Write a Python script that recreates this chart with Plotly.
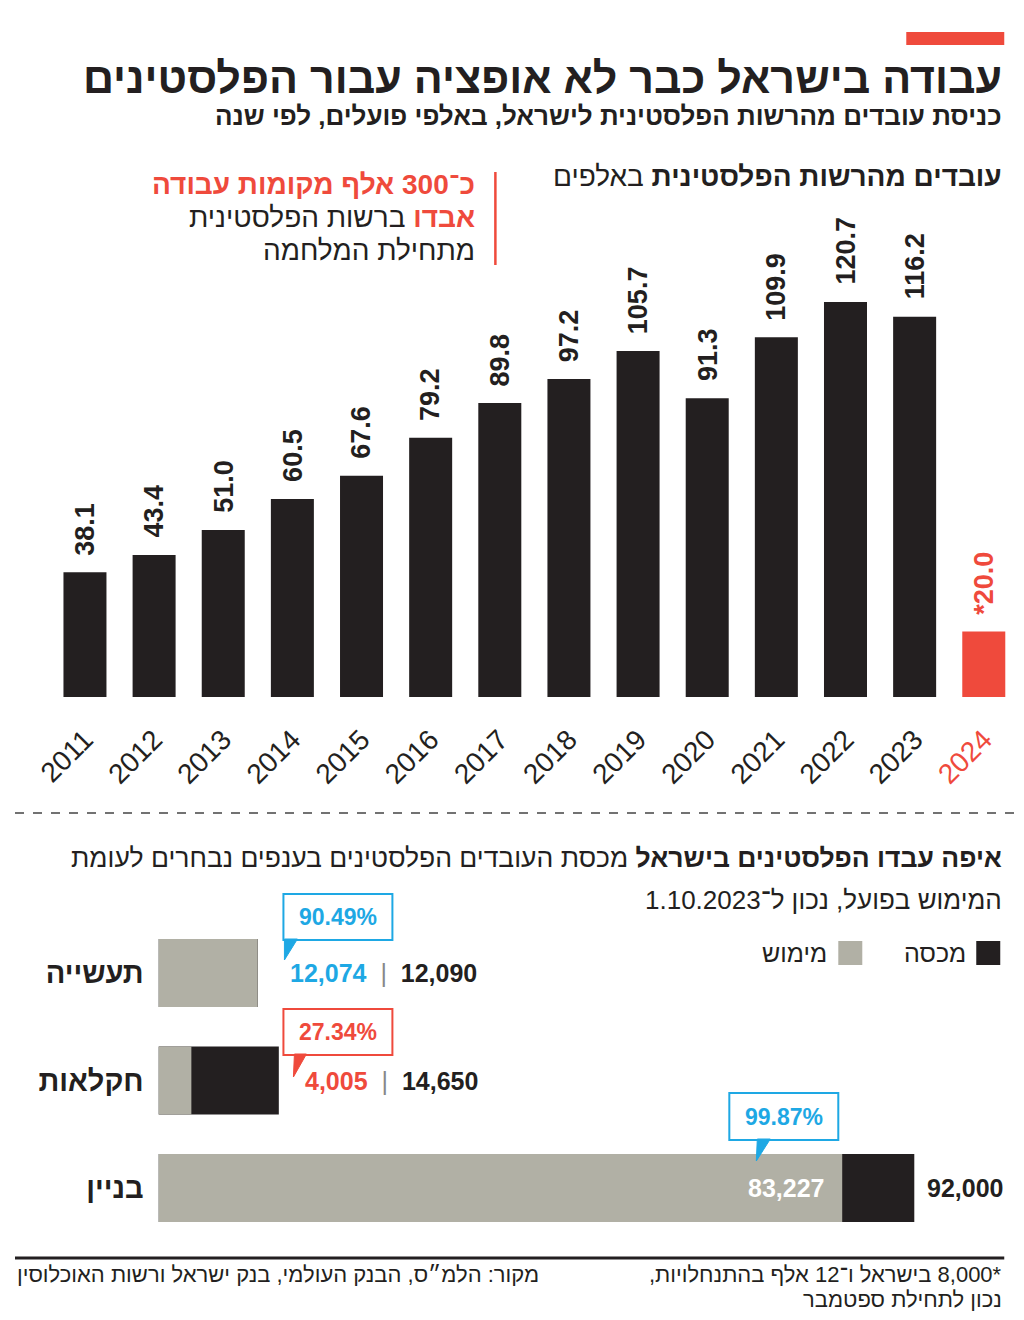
import plotly.graph_objects as go

# ---------------- data ----------------
years = ["2011", "2012", "2013", "2014", "2015", "2016", "2017",
         "2018", "2019", "2020", "2021", "2022", "2023", "2024"]
workers_thousands = [38.1, 43.4, 51.0, 60.5, 67.6, 79.2, 89.8,
                     97.2, 105.7, 91.3, 109.9, 120.7, 116.2, 20.0]
value_labels = ["38.1", "43.4", "51.0", "60.5", "67.6", "79.2", "89.8",
                "97.2", "105.7", "91.3", "109.9", "120.7", "116.2", "*20.0"]

sectors = ["תעשייה", "חקלאות", "בניין"]
quota = [12090, 14650, 92000]
actual = [12074, 4005, 83227]
usage_pct = ["90.49%", "27.34%", "99.87%"]

# ---------------- style ----------------
W, H = 1024, 1320
BLACK = "#231f20"
RED = "#ef4a3c"
GRAY = "#b1b0a5"
BLUE = "#1ea8e4"
HEB = "Liberation Sans, DejaVu Sans, sans-serif"
NUM = "Liberation Sans, Roboto, sans-serif"
RLE, PDF = "\u202b", "\u202c"
# horizontal correction measured from the rendered picture
VIEW_OFFSET, VIEW_SCALE = 14.5, 0.9856


def px(x):
    return max((x - VIEW_OFFSET) / VIEW_SCALE, 0) / W


def py(y):
    return 1 - y / H


def rtl(s):
    return RLE + s + PDF


fig = go.Figure()

bar_colors = [BLACK] * (len(years) - 1) + [RED]
fig.add_trace(go.Bar(
    x=years, y=workers_thousands, marker=dict(color=bar_colors, line=dict(width=0)),
    width=0.622, xaxis="x", yaxis="y", hoverinfo="x+y", showlegend=False))

fig.add_trace(go.Bar(
    y=sectors, x=quota, orientation="h", marker=dict(color=BLACK, line=dict(width=0)),
    width=0.633, xaxis="x2", yaxis="y2", name="מכסה", showlegend=False))
fig.add_trace(go.Bar(
    y=sectors, x=actual, orientation="h", marker=dict(color=GRAY, line=dict(width=0)),
    width=0.633, xaxis="x2", yaxis="y2", name="מימוש", showlegend=False))

ticktext = [y if i < len(years) - 1 else f"<span style='color:{RED}'>{y}</span>"
            for i, y in enumerate(years)]

annotations = []
shapes = []

for i, (v, lab) in enumerate(zip(workers_thousands, value_labels)):
    annotations.append(dict(
        x=i, y=v, xref="x", yref="y", text=f"<b>{lab}</b>", textangle=-90,
        showarrow=False, xanchor="center", yanchor="bottom", yshift=15,
        font=dict(family=NUM, size=27, color=RED if i == len(years) - 1 else BLACK)))

right_texts = [
    (1004, 78, "<b>עבודה בישראל כבר לא אופציה עבור הפלסטינים</b>", 43, BLACK),
    (1004, 116, "<b>כניסת עובדים מהרשות הפלסטינית לישראל, באלפי פועלים, לפי שנה</b>", 26, BLACK),
    (1004, 177, "<b>עובדים מהרשות הפלסטינית</b> באלפים", 28, BLACK),
    (477, 184, "<b>כ־300 אלף מקומות עבודה</b>", 28, RED),
    (477, 217, f"<b><span style='color:{RED}'>אבדו</span></b> ברשות הפלסטינית", 28, BLACK),
    (477, 250, rtl("מתחילת המלחמה"), 28, BLACK),
    (1004, 858, "<b>איפה עבדו הפלסטינים בישראל</b> מכסת העובדים הפלסטינים בענפים נבחרים לעומת", 26.5, BLACK),
    (1004, 900, rtl("המימוש בפועל, נכון ל־1.10.2023"), 26, BLACK),
    (968, 953, rtl("מכסה"), 25, BLACK),
    (829, 953, rtl("מימוש"), 25, BLACK),
    (1004, 1274, rtl("*8,000 בישראל ו־12 אלף בהתנחלויות,"), 22, BLACK),
    (1004, 1299, rtl("נכון לתחילת ספטמבר"), 22, BLACK),
]
for x, y, t, s, c in right_texts:
    annotations.append(dict(x=px(x), y=py(y), xref="paper", yref="paper", text=t,
                            xanchor="right", yanchor="middle", showarrow=False,
                            font=dict(family=HEB, size=s, color=c)))

annotations.append(dict(
    x=px(14.5), y=py(1274), xref="paper", yref="paper", xanchor="left", yanchor="middle",
    showarrow=False, text=rtl("מקור: הלמ״ס, הבנק העולמי, בנק ישראל ורשות האוכלוסין"),
    font=dict(family=HEB, size=22, color=BLACK)))

nb = "\u00a0"
sep = f"{nb*2}<span style='color:#888'>|</span>{nb*2}"
label_cols = [BLUE, RED]
shifts = [30, 24]
for i in range(2):
    annotations.append(dict(
        x=quota[i], y=sectors[i], xref="x2", yref="y2", xanchor="left", yanchor="middle",
        xshift=shifts[i], showarrow=False,
        text=f"<b><span style='color:{label_cols[i]}'>{actual[i]:,}</span></b>{sep}<b>{quota[i]:,}</b>",
        font=dict(family=NUM, size=25, color=BLACK)))
annotations.append(dict(
    x=actual[2], y=sectors[2], xref="x2", yref="y2", xanchor="right", yanchor="middle",
    xshift=-16, showarrow=False, text=f"<b>{actual[2]:,}</b>",
    font=dict(family=NUM, size=25, color="white")))
annotations.append(dict(
    x=quota[2], y=sectors[2], xref="x2", yref="y2", xanchor="left", yanchor="middle",
    xshift=11, showarrow=False, text=f"<b>{quota[2]:,}</b>",
    font=dict(family=NUM, size=25, color=BLACK)))

callouts = [
    (usage_pct[0], BLUE, (283, 894, 392, 940), [(284, 939), (297, 939), (284, 960)]),
    (usage_pct[1], RED, (283, 1009, 392, 1055), [(294, 1054), (306, 1054), (293, 1077)]),
    (usage_pct[2], BLUE, (729, 1093, 838, 1140), [(757, 1139), (770, 1139), (756, 1161)]),
]
for txt, col, (x0, y0, x1, y1), tail in callouts:
    shapes.append(dict(type="rect", xref="paper", yref="paper", x0=px(x0), x1=px(x1),
                       y0=py(y0), y1=py(y1), line=dict(color=col, width=2), fillcolor="white"))
    path = "M " + " L ".join(f"{px(a)},{py(b)}" for a, b in tail) + " Z"
    shapes.append(dict(type="path", xref="paper", yref="paper", path=path,
                       line=dict(color=col, width=1), fillcolor=col))
    annotations.append(dict(x=px((x0 + x1) / 2), y=py((y0 + y1) / 2), xref="paper", yref="paper",
                            showarrow=False, text=f"<b>{txt}</b>", xanchor="center", yanchor="middle",
                            font=dict(family=NUM, size=23, color=col)))

shapes += [
    dict(type="rect", xref="paper", yref="paper", x0=px(906), x1=px(1004), y0=py(32), y1=py(45),
         fillcolor=RED, line=dict(width=0)),
    dict(type="line", xref="paper", yref="paper", x0=px(495), x1=px(495), y0=py(172), y1=py(265),
         line=dict(color=RED, width=2.5)),
    dict(type="line", xref="paper", yref="paper", x0=px(10), x1=px(1014), y0=py(813), y1=py(813),
         line=dict(color="#444", width=1.5, dash="dash")),
    dict(type="line", xref="paper", yref="paper", x0=px(10), x1=px(1004), y0=py(1258), y1=py(1258),
         line=dict(color=BLACK, width=3)),
    dict(type="rect", xref="paper", yref="paper", x0=px(976), x1=px(1000), y0=py(941), y1=py(965),
         fillcolor=BLACK, line=dict(width=0)),
    dict(type="rect", xref="paper", yref="paper", x0=px(838), x1=px(862), y0=py(941), y1=py(965),
         fillcolor=GRAY, line=dict(width=0)),
]

fig.update_layout(
    width=W, height=H, margin=dict(l=0, r=0, t=0, b=0),
    paper_bgcolor="white", plot_bgcolor="white",
    barmode="overlay", showlegend=False,
    annotations=annotations, shapes=shapes,
    xaxis=dict(domain=[px(49.9), px(1018.1)], range=[-0.5, 13.5], type="category",
               tickmode="array", tickvals=years, ticktext=ticktext, tickangle=-45,
               ticks="outside", ticklen=14, tickcolor="rgba(0,0,0,0)",
               tickfont=dict(family="Liberation Sans, Arial, sans-serif", size=28, color=BLACK),
               showgrid=False, zeroline=False, showline=False, fixedrange=True),
    yaxis=dict(domain=[py(697), py(230)], range=[0, 142.7], visible=False, fixedrange=True),
    xaxis2=dict(domain=[px(158), px(1004)], range=[0, 102950], visible=False, anchor="y2",
                fixedrange=True),
    yaxis2=dict(domain=[py(1241.75), py(919.25)], range=[-0.5, 2.5], anchor="x2",
                type="category", categoryorder="array", categoryarray=sectors[::-1],
                tickmode="array", tickvals=sectors, ticktext=[f"<b>{s}</b>" for s in sectors],
                ticks="outside", ticklen=8, tickcolor="rgba(0,0,0,0)",
                tickfont=dict(family=HEB, size=29, color=BLACK),
                showgrid=False, zeroline=False, showline=False, fixedrange=True),
)

fig.write_html("out.html", config={"displayModeBar": False},
               post_script="document.body.style.margin='0';document.body.style.overflow='hidden';")
